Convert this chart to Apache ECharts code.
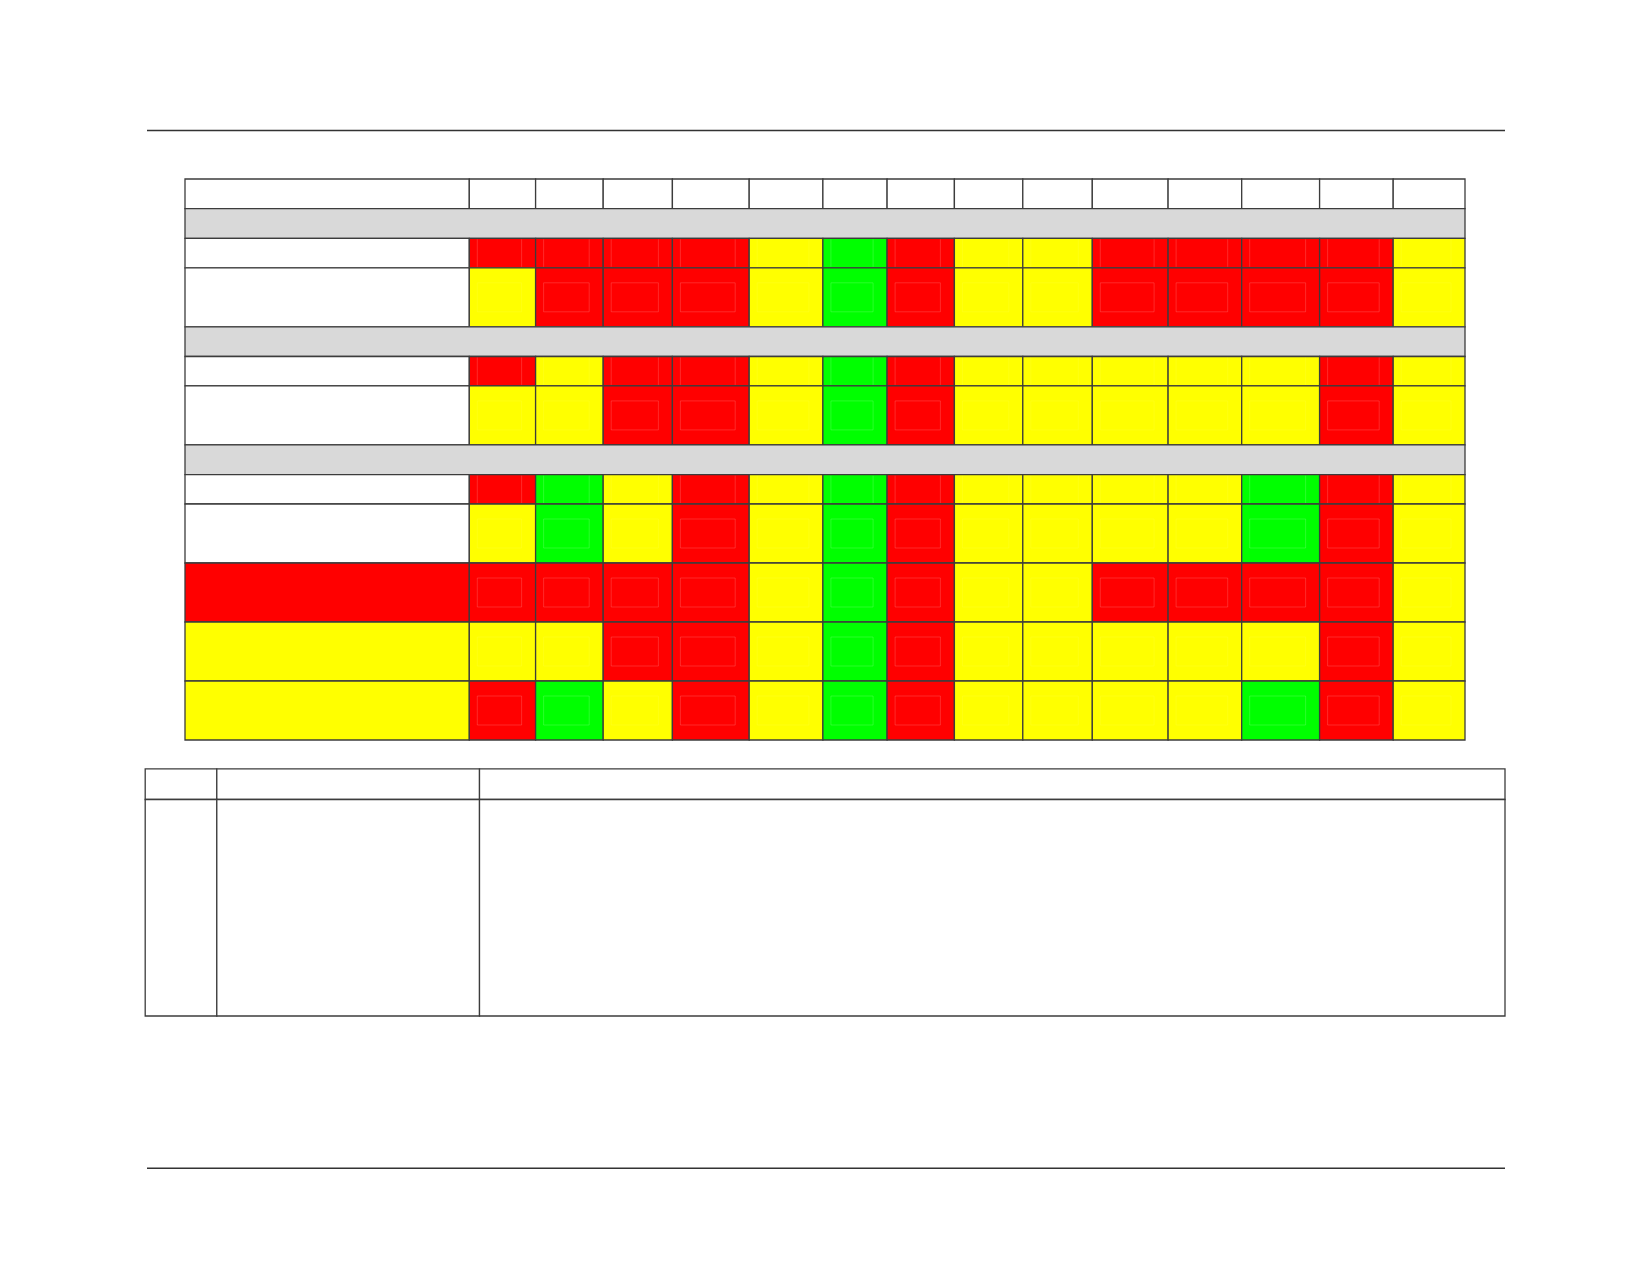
<!DOCTYPE html>
<html>
<head>
<meta charset="utf-8">
<script src="https://cdn.jsdelivr.net/npm/echarts@6/dist/echarts.min.js"></script>
<style>
html,body{margin:0;padding:0;background:#fff;}
#chart{width:1650px;height:1275px;}
</style>
</head>
<body>
<div id="chart"></div>
<script>
// Table structure (relative column widths / row heights)
const colWidths = [284.3, 66.3, 67.6, 69.2, 76.8, 73.7, 64.2, 67.3, 68.4, 69.5, 75.8, 73.6, 77.9, 73.6, 71.8];
const rowTypes = ['header','section','short','tall','section','short','tall','section','short','tall','tall','tall','tall'];
const rowHeightByType = {header: 29.7, section: 29.7, short: 29.4, tall: 59};

// Status of the label column per row (W white, S section band, R red, Y yellow, G green)
const labelStatus = ['W','S','W','W','S','W','W','S','W','W','R','Y','Y'];
// Status of the 14 value columns per row (null = section band)
const cellStatus = [
  'WWWWWWWWWWWWWW',
  null,
  'RRRRYGRYYRRRRY',
  'YRRRYGRYYRRRRY',
  null,
  'RYRRYGRYYYYYRY',
  'YYRRYGRYYYYYRY',
  null,
  'RGYRYGRYYYYGRY',
  'YGYRYGRYYYYGRY',
  'RRRRYGRYYRRRRY',
  'YYRRYGRYYYYYRY',
  'RGYRYGRYYYYGRY'
];
const statusCodes = ['W','S','R','Y','G'];
const statusColors = {W:'#FFFFFF', S:'#D9D9D9', R:'#FF0000', Y:'#FFFF00', G:'#00FF00'};

// Notes table structure (empty)
const noteColWidths = [71.6, 262.7, 1025.5];
const noteRowHeights = [30.7, 216.5];

function edges(arr){ const e=[0]; arr.forEach(v=>e.push(e[e.length-1]+v)); return e; }
const colEdges = edges(colWidths);
const rowEdges = edges(rowTypes.map(t=>rowHeightByType[t]));
const totalW = colEdges[colEdges.length-1];
const totalH = rowEdges[rowEdges.length-1];

const cells = [];
rowTypes.forEach((t, r) => {
  const y0 = rowEdges[r], y1 = rowEdges[r+1];
  if (cellStatus[r] === null) {
    cells.push([0, totalW, y0, y1, statusCodes.indexOf('S'), 1]);
    return;
  }
  cells.push([colEdges[0], colEdges[1], y0, y1, statusCodes.indexOf(labelStatus[r]), 1]);
  cellStatus[r].split('').forEach((s, c) => {
    cells.push([colEdges[c+1], colEdges[c+2], y0, y1, statusCodes.indexOf(s), 0]);
  });
});

const nColEdges = edges(noteColWidths);
const nRowEdges = edges(noteRowHeights);
const noteCells = [];
noteRowHeights.forEach((h, r) => {
  noteColWidths.forEach((w, c) => {
    noteCells.push([nColEdges[c], nColEdges[c+1], nRowEdges[r], nRowEdges[r+1], 0, 1]);
  });
});

function renderCell(params, api){
  const p0 = api.coord([api.value(0), api.value(2)]);
  const p1 = api.coord([api.value(1), api.value(3)]);
  const st = statusCodes[api.value(4)];
  const isLabel = api.value(5) === 1;
  const x = p0[0], y = p0[1], w = p1[0]-p0[0], h = p1[1]-p0[1];
  const children = [{
    type:'rect', shape:{x:x, y:y, width:w, height:h},
    style:{fill: statusColors[st], stroke: '#3c3c3c', lineWidth: 1.3}
  }];
  if (!isLabel && (st === 'R' || st === 'G' || st === 'Y')) {
    const faint = st === 'Y' ? 'rgba(255,255,255,0.07)' : 'rgba(255,255,255,0.16)';
    const lx = x + 8, rx = x + w - 14;
    if (h > 40) {
      children.push({type:'rect', shape:{x:lx, y:y+15, width:rx-lx, height:h-30},
        style:{fill:'none', stroke:faint, lineWidth:1}});
    } else {
      children.push({type:'line', shape:{x1:lx, y1:y+1, x2:lx, y2:y+h-1}, style:{stroke:faint, lineWidth:1}});
      children.push({type:'line', shape:{x1:rx, y1:y+1, x2:rx, y2:y+h-1}, style:{stroke:faint, lineWidth:1}});
    }
  }
  return {type:'group', children};
}

const chart = echarts.init(document.getElementById('chart'), null, {renderer:'canvas'});
const hiddenAxis = {show:false, splitLine:{show:false}};
chart.setOption({
  backgroundColor:'#ffffff',
  animation:false,
  grid:[
    {left:185, top:179, width:1280, height:561, show:false},
    {left:145.2, top:768.8, width:1359.8, height:247.2, show:false}
  ],
  xAxis:[
    Object.assign({type:'value', gridIndex:0, min:0, max:totalW}, hiddenAxis),
    Object.assign({type:'value', gridIndex:1, min:0, max:nColEdges[nColEdges.length-1]}, hiddenAxis)
  ],
  yAxis:[
    Object.assign({type:'value', gridIndex:0, min:0, max:totalH, inverse:true}, hiddenAxis),
    Object.assign({type:'value', gridIndex:1, min:0, max:nRowEdges[nRowEdges.length-1], inverse:true}, hiddenAxis)
  ],
  graphic:[
    {type:'line', shape:{x1:147, y1:130.5, x2:1505, y2:130.5}, style:{stroke:'#333', lineWidth:1.5}},
    {type:'line', shape:{x1:147, y1:1168.3, x2:1505, y2:1168.3}, style:{stroke:'#333', lineWidth:1.5}}
  ],
  series:[
    {type:'custom', xAxisIndex:0, yAxisIndex:0, renderItem:renderCell, data:cells,
      encode:{x:[0,1], y:[2,3]}, silent:true},
    {type:'custom', xAxisIndex:1, yAxisIndex:1, renderItem:renderCell, data:noteCells,
      encode:{x:[0,1], y:[2,3]}, silent:true}
  ]
});
</script>
</body>
</html>
